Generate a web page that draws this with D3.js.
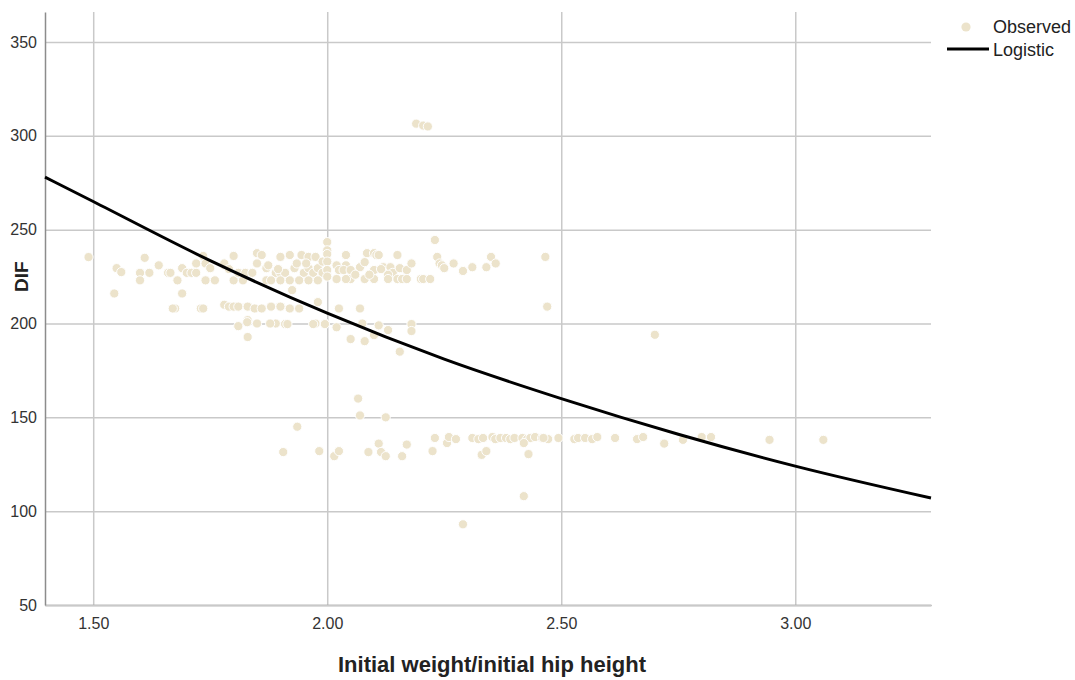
<!DOCTYPE html>
<html>
<head>
<meta charset="utf-8">
<script src="https://cdn.jsdelivr.net/npm/d3@7"></script>
<style>
  body { margin: 0; background: #fff; }
  svg { font-family: "Liberation Sans", Arial, sans-serif; }
</style>
</head>
<body>
<div id="chart-area"></div>
<script>
// observed points (x = initial weight / initial hip height, y = DIF)
var obsX = [
  1.49, 1.545, 1.55, 1.56, 1.60, 1.60, 1.61, 1.62, 1.64, 1.66, 1.665, 1.675, 1.68, 1.69, 1.69, 1.67,
  1.70, 1.71, 1.72, 1.72, 1.735, 1.74, 1.75, 1.74, 1.76, 1.73, 1.735, 1.78, 1.78, 1.79, 1.80, 1.81,
  1.80, 1.82, 1.81, 1.825, 1.84, 1.81, 1.83, 1.85, 1.83, 1.85, 1.86, 1.85, 1.83, 1.845, 1.86, 1.87,
  1.87, 1.88, 1.90, 1.88, 1.89, 1.90, 1.89, 1.90, 1.91, 1.88, 1.90, 1.92, 1.92, 1.945, 1.96, 1.925,
  1.91, 1.92, 1.94, 1.98, 1.975, 1.995, 2.00,
  1.93, 1.95, 1.96, 1.97, 1.98, 1.99, 1.94, 1.96, 1.98, 1.935, 1.955, 1.975, 1.99, 2.00, 2.00, 2.00,
  2.00, 2.00, 1.78, 1.79, 1.80, 1.874, 1.895, 1.829, 1.878, 1.915, 1.97,
  2.02, 2.025, 2.04, 2.035, 2.04, 2.05, 2.05, 2.04, 2.02, 2.07, 2.08, 2.085, 2.10, 2.105, 2.11, 2.10,
  2.08, 2.10, 2.12, 2.135, 2.14, 2.13, 2.13, 2.15, 2.16, 2.17, 2.15, 2.155, 2.17, 2.18, 2.20, 2.205,
  2.22, 2.23, 2.235, 2.24, 2.245, 2.25, 2.27, 2.29, 2.31, 2.34, 2.35, 2.36, 2.466, 2.47, 2.025, 2.07,
  2.075, 2.11, 2.13, 2.18, 2.18, 2.05, 2.08, 2.10, 1.995, 2.02, 2.155, 2.06, 2.09, 2.115,
  2.19, 2.205, 2.215,
  2.066, 2.07, 2.125, 1.936, 1.906, 1.983, 2.015, 2.025, 2.088, 2.11, 2.115, 2.125, 2.17, 2.16, 2.225,
  2.23, 2.256, 2.26, 2.275, 2.31, 2.323, 2.333, 2.353, 2.359, 2.37, 2.382, 2.391, 2.40, 2.417, 2.427,
  2.434, 2.444, 2.459, 2.472, 2.494, 2.33, 2.34, 2.42, 2.43, 2.42, 2.29, 2.462, 2.528, 2.536, 2.551,
  2.566, 2.577, 2.615, 2.662, 2.675, 2.72, 2.76, 2.80, 2.82, 2.945, 3.06, 2.70
];
var obsY = [
  235.4, 216, 229.5, 227.4, 227, 223, 235, 227, 231, 227, 227, 208, 223, 229.5, 216, 208,
  227, 227, 227, 232, 236, 232, 229.5, 223, 223, 208, 208, 231, 210, 209, 209, 209,
  223, 223, 227, 227, 227, 198.6, 201.8, 200, 192.8, 237.5, 236.5, 232, 209, 208, 208, 229.5,
  223, 209, 209, 200, 200, 235.5, 227, 227, 227, 223, 223, 223, 236.5, 236.5, 235.5, 217.8,
  199.7, 208, 208, 211.4, 200, 200, 243.4,
  229.5, 227, 229.5, 227, 229.5, 227, 223, 223, 223, 232, 232, 235.5, 233, 239, 237, 233,
  228.5, 225, 232, 229, 236, 231, 229, 200.7, 200, 199.7, 199.7,
  231, 228.5, 231, 228.5, 236.5, 228.5, 223.7, 223.7, 223.7, 230, 232.7, 237.5, 237.5, 236.5, 236.5, 228.5,
  223.7, 223.7, 230, 230, 227, 226, 223.7, 223.7, 223.7, 223.7, 236.5, 229.5, 228.5, 232, 223.7, 223.7,
  223.7, 244.5, 235.5, 232, 231, 229.5, 232, 228, 230, 230, 235.5, 232, 235.5, 209, 208, 208,
  200, 199, 196.5, 199.7, 196, 191.7, 190.6, 193.8, 199.7, 198, 185, 226, 226, 229,
  306.5, 305.5, 305,
  160, 151, 150, 145, 131.5, 132, 129.3, 132, 131.5, 136, 131.5, 129.3, 135.5, 129.3, 132,
  139, 136.3, 139.5, 138.4, 139, 138.4, 139, 139.5, 138.4, 139, 139, 138.4, 139, 139, 138.4,
  139, 139.5, 139, 138.4, 139, 130, 132, 136.3, 130.4, 108, 93, 139, 138.4, 139, 139,
  138.4, 139.5, 139, 138.4, 139.5, 136, 138, 139.5, 139.5, 138, 138, 194
];

// fitted logistic curve
var fitX = [1.397, 1.5, 1.75, 2.0, 2.25, 2.5, 2.75, 3.0, 3.29];
var fitY = [278, 265, 233.5, 205.5, 181, 160, 141, 124, 107];

var xTicks = [1.5, 2.0, 2.5, 3.0];
var yTicks = [50, 100, 150, 200, 250, 300, 350];

var margin = {left: 45, right: 144, top: 12, bottom: 75};
var width = 1075 - margin.left - margin.right;
var height = 680 - margin.top - margin.bottom;

var svg = d3.select("#chart-area")
  .append("svg")
  .attr("width", 1075)
  .attr("height", 680);

var g = svg.append("g")
  .attr("transform", "translate(" + margin.left + "," + margin.top + ")");

var x = d3.scaleLinear().domain([1.397, 3.29]).range([0, width]);
var y = d3.scaleLinear().domain([50, 366]).range([height, 0]);

var xAxisCall = d3.axisBottom(x)
  .tickValues(xTicks)
  .tickFormat(d3.format(".2f"))
  .tickSizeInner(-height)
  .tickSizeOuter(0)
  .tickPadding(13);

var yAxisCall = d3.axisLeft(y)
  .tickValues(yTicks)
  .tickFormat(d3.format("d"))
  .tickSizeInner(-width)
  .tickSizeOuter(0)
  .tickPadding(8);

var xAxisGroup = g.append("g")
  .attr("transform", "translate(0," + height + ")")
  .call(xAxisCall);

var yAxisGroup = g.append("g")
  .call(yAxisCall);

[xAxisGroup, yAxisGroup].forEach(function(ax) {
  ax.attr("font-size", 16);
  ax.selectAll(".tick line")
    .attr("stroke", "#c9c9c9")
    .attr("stroke-width", 1.5);
  ax.selectAll(".tick text")
    .attr("fill", "#333")
    .style("font-size", "16px")
    .attr("font-family", "Liberation Sans, Arial, sans-serif");
  ax.select(".domain")
    .attr("stroke", "#8c8c8c")
    .attr("stroke-width", 1.5);
});
// keep axis lines above the grid
xAxisGroup.select(".domain").raise();
yAxisGroup.select(".domain").raise();

// points
var obs = obsX.map(function(d, i) { return {x: d, y: obsY[i]}; });

g.selectAll("circle.obs")
  .data(obs)
  .enter()
  .append("circle")
  .attr("class", "obs")
  .attr("cx", function(d) { return x(d.x); })
  .attr("cy", function(d) { return y(d.y); })
  .attr("r", 4.6)
  .attr("fill", "#ece3cb")
  .attr("stroke", "#ffffff")
  .attr("stroke-width", 1);

// fit line
var fit = fitX.map(function(d, i) { return {x: d, y: fitY[i]}; });
var line = d3.line()
  .x(function(d) { return x(d.x); })
  .y(function(d) { return y(d.y); })
  .curve(d3.curveMonotoneX);

g.append("path")
  .datum(fit)
  .attr("d", line)
  .attr("fill", "none")
  .attr("stroke", "#000")
  .attr("stroke-width", 3);

// axis titles
svg.append("text")
  .attr("x", margin.left + width / 2 + 4)
  .attr("y", 672)
  .attr("text-anchor", "middle")
  .attr("font-size", "22px")
  .attr("font-weight", "bold")
  .attr("fill", "#222")
  .text("Initial weight/initial hip height");

svg.append("text")
  .attr("transform", "translate(28," + (margin.top + y(225)) + ") rotate(-90)")
  .attr("text-anchor", "middle")
  .attr("font-size", "19px")
  .attr("font-weight", "bold")
  .attr("fill", "#222")
  .text("DIF");

// legend
var legend = svg.append("g")
  .attr("transform", "translate(993,0)");

legend.append("circle")
  .attr("cx", -27)
  .attr("cy", 27)
  .attr("r", 4.6)
  .attr("fill", "#ece3cb");

legend.append("text")
  .attr("x", 0)
  .attr("y", 33)
  .attr("font-size", "18px")
  .attr("fill", "#222")
  .text("Observed");

legend.append("line")
  .attr("x1", -46)
  .attr("x2", -4)
  .attr("y1", 49)
  .attr("y2", 49)
  .attr("stroke", "#000")
  .attr("stroke-width", 3);

legend.append("text")
  .attr("x", 0)
  .attr("y", 56)
  .attr("font-size", "18px")
  .attr("fill", "#222")
  .text("Logistic");
</script>
</body>
</html>
